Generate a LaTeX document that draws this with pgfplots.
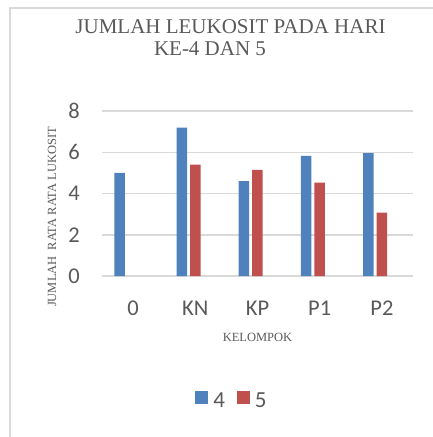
\documentclass[border=0pt]{standalone}
\usepackage{pgfplots}
\pgfplotsset{compat=1.18}
\usepackage{fontspec}
\setmainfont{Liberation Serif}
\newfontfamily\carlito{Carlito}
\definecolor{txt}{HTML}{595959}
\definecolor{gridc}{HTML}{D9D9D9}
\definecolor{b1}{HTML}{4F81BD}
\definecolor{r1}{HTML}{C0504D}
\pgfplotsset{sqlegend/.style={legend image code/.code={\fill[##1] (0pt,-3pt) rectangle (13pt,10.5pt);}}}
\begin{document}
\begin{tikzpicture}
\useasboundingbox (-102pt,-161pt) rectangle (331pt,276pt);
\draw[gridc, line width=1.5pt] (-92pt,-161pt) -- (-92pt,268pt) -- (331pt,268pt);
\begin{axis}[
  at={(0pt,0pt)}, anchor=south west,
  scale only axis, width=311pt, height=165pt,
  xmin=-0.5, xmax=4.5, ymin=0, ymax=8,
  enlargelimits=false,
  clip=false,
  ybar, bar width=10.5pt,
  xtick={0,1,2,3,4}, xticklabels={0,KN,KP,P1,P2},
  ytick={0,2,4,6,8},
  ymajorgrids, grid style={gridc, line width=1.5pt},
  axis line style={draw=none}, major tick length=0pt,
  tick label style={font=\carlito\fontsize{22.5}{26}\selectfont, text=txt},
  /pgf/number format/assume math mode=true,
  yticklabel style={anchor=east, inner sep=0pt, xshift=-22pt},
  xticklabel style={anchor=base, inner sep=0pt, yshift=-39pt},
  ylabel={JUMLAH\ \ RATA RATA LUKOSIT},
  ylabel style={at={(-0.1608,0.3576)}, anchor=center, font=\fontsize{12.5}{14}\selectfont, text=txt},
  xlabel={KELOMPOK},
  xlabel style={at={(0.5,-0.374)}, anchor=center, font=\fontsize{12.5}{14}\selectfont, text=txt},
  legend columns=2,
  legend style={at={(0.4148,-0.7515)}, anchor=center, draw=none, fill=none,
    font=\carlito\fontsize{23}{26}\selectfont, text=txt,
    nodes={inner sep=0pt},
    /tikz/column sep=5pt,
    /tikz/every even column/.append style={column sep=12pt}},
]
\addplot[fill=b1, draw=none, bar shift=-13.5pt, sqlegend] coordinates {(0,5.0) (1,7.2) (2,4.6) (3,5.83) (4,5.96)};
\addlegendentry{4}
\addplot[fill=r1, draw=none, bar shift=0pt, sqlegend] coordinates {(1,5.4) (2,5.15) (3,4.53) (4,3.07)};
\addlegendentry{5}
\end{axis}
\node[anchor=base, font=\fontsize{21}{24}\selectfont, text=txt] at (128.5pt,242.5pt) {JUMLAH LEUKOSIT PADA HARI};
\node[anchor=base, font=\fontsize{21}{24}\selectfont, text=txt] at (108pt,221pt) {KE-4 DAN 5};
\end{tikzpicture}
\end{document}
